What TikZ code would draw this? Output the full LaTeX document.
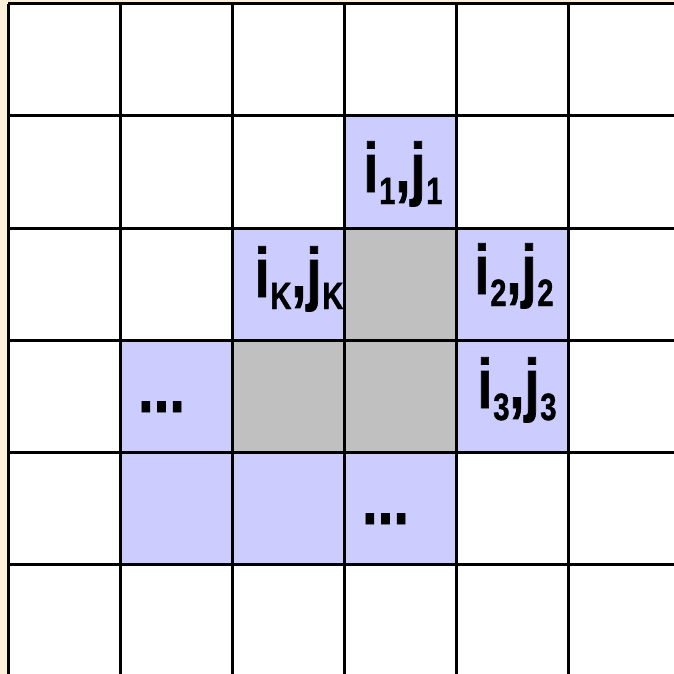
\documentclass[tikz,border=0pt]{standalone}
\usepackage{fontspec}
\usepackage{graphicx}
\setmainfont{Liberation Sans}
\newfontfamily\lblfont{Liberation Sans Bold}[FakeBold=1.2]
\definecolor{bgcream}{RGB}{253,240,216}
\definecolor{cellblue}{RGB}{204,204,255}
\definecolor{cellgray}{RGB}{192,192,192}
\newcommand{\mainsz}{\lblfont\fontsize{70}{70}\selectfont}
\newcommand{\subsz}{\lblfont\fontsize{38}{38}\selectfont}
\newcommand{\pairlbl}[2]{\scalebox{0.77}[1]{\mainsz i\kern1pt\raisebox{-12pt}{\subsz #1},j\kern1pt\raisebox{-12pt}{\subsz #2}}}
\tikzset{
  gridline/.style={line width=3pt, black},
  bluecell/.style={fill=cellblue},
  graycell/.style={fill=cellgray},
  lbl/.style={inner sep=0pt, anchor=base, font=\mainsz},
}
\begin{document}
\begin{tikzpicture}[x=1pt,y=-1pt]
\useasboundingbox (0,0) rectangle (674,674);
\fill[bgcream] (0,0) rectangle (674,674);
\fill[white] (8,4) rectangle (674,674);
% blue cells
\fill[bluecell] (344,116) rectangle (456,228);
\fill[bluecell] (232,228) rectangle (344,340);
\fill[bluecell] (456,228) rectangle (568,340);
\fill[bluecell] (120,340) rectangle (232,452);
\fill[bluecell] (456,340) rectangle (568,452);
\fill[bluecell] (120,452) rectangle (456,564);
% gray cells
\fill[graycell] (344,228) rectangle (456,340);
\fill[graycell] (232,340) rectangle (456,452);
% grid
\foreach \x in {8,120,232,344,456,568} \draw[gridline] (\x,4) -- (\x,674);
\foreach \y in {4,116,228,340,452,564} \draw[gridline] (8,\y) -- (674,\y);
% labels
\node[lbl] (l1) at (403,192) {\pairlbl{1}{1}};
\node[lbl] (lK) at (299,297) {\pairlbl{K}{K}};
\node[lbl] (l2) at (514,294) {\pairlbl{2}{2}};
\node[lbl] (l3) at (517,408) {\pairlbl{3}{3}};
\node[lbl] (d1) at (161.5,412) {\scalebox{0.8}[1]{...}};
\node[lbl] (d2) at (385.5,524) {\scalebox{0.8}[1]{...}};
\end{tikzpicture}
\end{document}
